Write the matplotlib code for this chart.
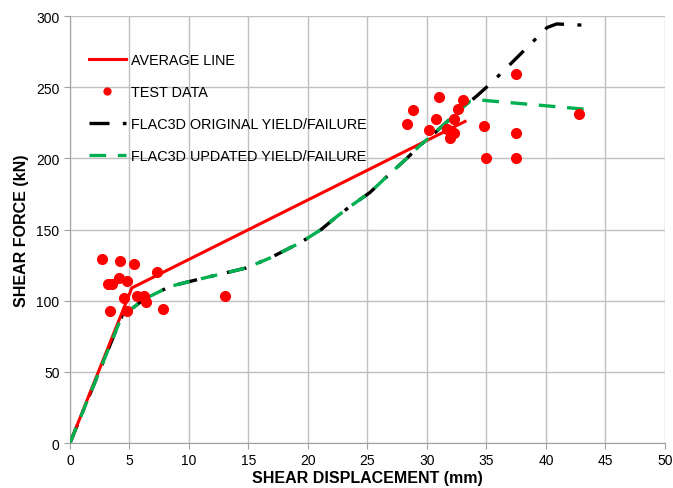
import matplotlib
matplotlib.use("Agg")
import matplotlib.pyplot as plt

plt.rcParams['font.family'] = ['Liberation Sans', 'DejaVu Sans']

# test data (mm, kN)
test_x = [2.7, 4.2, 5.4, 7.3, 3.2, 3.5, 4.15, 4.8, 4.5, 5.6, 6.2, 6.4, 3.4, 4.8, 7.8, 13.0,
          28.8, 31.0, 33.0, 32.6, 30.8, 32.3, 28.3, 30.2, 31.7, 32.3, 31.9,
          37.5, 34.8, 37.5, 35.0, 37.5, 42.8]
test_y = [129, 128, 126, 120, 112, 112, 116, 114, 102, 103, 103, 99, 93, 93, 94, 103,
          234, 243, 241, 235, 228, 228, 224, 220, 221, 218, 214,
          259, 223, 218, 200, 200, 231]

# average line
avg_x = [0, 5.2, 33.2]
avg_y = [0, 109, 226]

# FLAC3D curves (shared part)
base_x = [0, 4.5, 5.3, 6.2, 8.4, 9.8, 12.3, 14.8, 16.8, 19.4, 21.1, 22.4, 23.5,
          25.2, 26.6, 28.3, 29.4, 30.8, 32.5]
base_y = [0, 92, 95, 101, 110, 113, 118, 123, 130, 141, 150, 159, 166,
          176, 187, 200, 209, 219, 232]

orig_x = base_x + [34.2, 35.4, 37.1, 38.9, 40.1, 40.9, 43.5]
orig_y = base_y + [244, 253, 267, 282, 292, 294.5, 293.5]

upd_x = base_x + [33.6, 34.5, 43.4]
upd_y = base_y + [240, 241, 234.5]

fig = plt.figure(figsize=(6.73, 4.89), dpi=100)
ax = fig.add_axes([0.104, 0.092, 0.884, 0.873])

ax.plot(avg_x, avg_y, color='#ff0000', lw=2.2, label='AVERAGE LINE', zorder=3)
ax.plot(test_x, test_y, 'o', color='#ff0000', ms=7, label='TEST DATA', zorder=4)
ax.plot(orig_x, orig_y, color='black', lw=2.4, dashes=(6, 4, 1.2, 4),
        label='FLAC3D ORIGINAL YIELD/FAILURE', zorder=2)
ax.plot(upd_x, upd_y, color='#00b050', lw=2.4, dashes=(5, 3.5),
        label='FLAC3D UPDATED YIELD/FAILURE', zorder=3)

ax.set_xlim(0, 50)
ax.set_ylim(0, 300)
ax.set_xticks(range(0, 51, 5))
ax.set_yticks(range(0, 301, 50))
ax.grid(True, color='#c0c0c0', lw=1)
ax.set_axisbelow(True)
for s in ['top', 'right']:
    ax.spines[s].set_visible(False)
for s in ['left', 'bottom']:
    ax.spines[s].set_color('#a0a0a0')
ax.tick_params(labelsize=10, length=4, color='#a0a0a0')

ax.set_xlabel('SHEAR DISPLACEMENT (mm)', fontsize=11.5, fontweight='bold', labelpad=2)
ax.set_ylabel('SHEAR FORCE (kN)', fontsize=11.5, fontweight='bold', labelpad=5)

ax.legend(loc='upper left', bbox_to_anchor=(0.01, 0.945), frameon=False, fontsize=10.4,
          handlelength=2.55, handletextpad=0.35, labelspacing=1.25, numpoints=1,
          markerscale=0.7)

fig.savefig('out.png', dpi=100)
